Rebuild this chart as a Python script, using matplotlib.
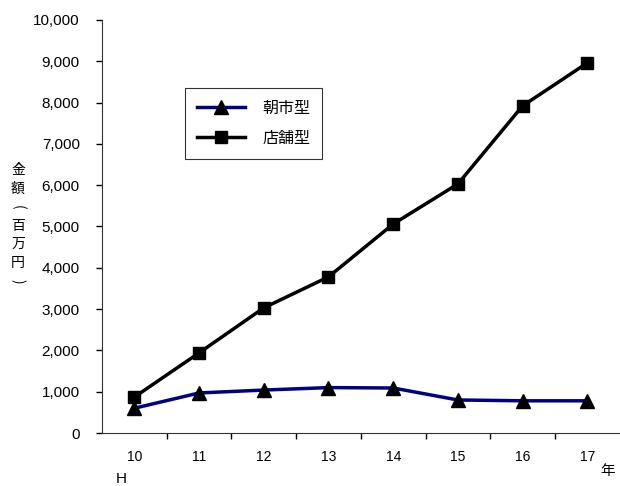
import matplotlib
matplotlib.use('Agg')
import matplotlib.pyplot as plt
from matplotlib.ticker import FuncFormatter, FixedLocator

plt.rcParams['font.family'] = ['Noto Sans CJK JP', 'DejaVu Sans']
num_font = ['Liberation Sans', 'DejaVu Sans']

# 年度 (平成)
years = [10, 11, 12, 13, 14, 15, 16, 17]
# 金額 (百万円)
asaichi = [600, 970, 1040, 1100, 1090, 800, 780, 780]
tenpo = [870, 1940, 3030, 3780, 5060, 6030, 7920, 8960]

fig = plt.figure(figsize=(6.2, 4.86), dpi=100)
ax = fig.add_axes([0.1645, 0.109, 0.835, 0.85])

ax.plot(years, asaichi, color='#000080', linewidth=2.5, marker='^',
        markersize=10, markerfacecolor='black', markeredgecolor='black',
        label='朝市型')
ax.plot(years, tenpo, color='black', linewidth=2.5, marker='s',
        markersize=8, markerfacecolor='black', markeredgecolor='black',
        label='店舗型')

ax.set_xlim(years[0] - 0.5, years[-1] + 0.5)
ax.set_ylim(0, 10000)
ax.set_yticks(range(0, 10001, 1000))
ax.yaxis.set_major_formatter(FuncFormatter(lambda v, p: f'{int(v):,}'))
for lbl in ax.get_yticklabels():
    lbl.set_family(num_font)
    lbl.set_fontsize(11)

# 区切りの目盛りはカテゴリの間に置く
ax.xaxis.set_major_locator(FixedLocator([y + 0.5 for y in years[:-1]]))
ax.set_xticklabels([])
xt = ax.get_xaxis_transform()
for y in years:
    ax.text(y, -0.057, str(y), transform=xt, ha='center', va='center',
            fontsize=10, family=num_font)
ax.text(years[0] - 0.2, -0.112, 'H', transform=xt, ha='center', va='center',
        fontsize=11, family=num_font)
ax.text(years[-1] + 0.32, -0.092, '年', transform=xt, ha='center',
        va='center', fontsize=10.5)

ax.tick_params(axis='both', direction='out', length=4, width=1)
ax.tick_params(axis='y', pad=12)
for s in ['top', 'right']:
    ax.spines[s].set_visible(False)
for s in ['left', 'bottom']:
    ax.spines[s].set_color('#333333')

# 縦書きの軸ラベル
ylabel_chars = ['金', '額', '(', '百', '万', '円', ')']
for i, ch in enumerate(ylabel_chars):
    rot = -90 if ch in '()' else 0
    fig.text(18 / 620, 1 - (170 + i * 18.5) / 486, ch, ha='center',
             va='center', fontsize=10, rotation=rot, rotation_mode='anchor')

leg = ax.legend(loc='upper left', bbox_to_anchor=(0.16, 0.835), frameon=True,
                fancybox=False, edgecolor='black', fontsize=11.5,
                handlelength=3.0, handletextpad=1.1, borderpad=0.75,
                labelspacing=0.8, borderaxespad=0)
leg.get_frame().set_linewidth(0.8)

fig.savefig('out.png', dpi=100)
